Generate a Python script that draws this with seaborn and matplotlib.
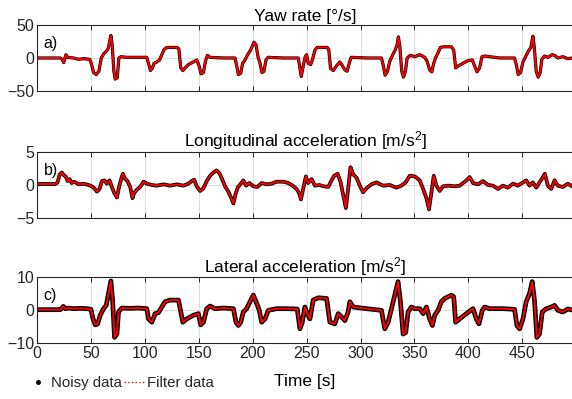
import numpy as np
import pandas as pd
import seaborn as sns
import matplotlib.pyplot as plt
from matplotlib.lines import Line2D

# yaw rate [deg/s]
yaw_t = [0, 21.6, 23.5, 24.7, 25.9, 26.8, 28.4, 34, 38.6, 43.2, 48.8, 50.3, 52.5, 54.9, 57.4,
         59.6, 61.7, 64.2, 66, 68.5, 69.7, 71.3, 72.5, 74.4, 75.9, 77.8, 83.3, 92.6, 101.8,
         103.4, 105.2, 107.1, 108.6, 111.1, 113.6, 115.7, 117.9, 120.4, 129.6, 131.5, 133.3,
         135.2, 137.3, 140.4, 145, 148.1, 150.3, 152.1, 154.3, 156.2, 158, 160.5, 172.8,
         183.6, 185.2, 186.7, 188.9, 190.7, 192.9, 195.3, 198.1, 201.2, 203.1, 204.9, 206.8,
         208.6, 210.5, 212.3, 214.2, 228.4, 242.3, 243.8, 245, 246.9, 248.7, 250, 251.5,
         253.7, 255.5, 257.7, 259.8, 269.1, 270.6, 272.2, 274.7, 277.7, 280.8, 283.3, 285.5,
         287.6, 289.5, 291.3, 305.5, 319.4, 320.9, 322.8, 325, 327.1, 329.6, 332.1, 333.9,
         335.1, 336.4, 338.2, 339.8, 341.6, 343.2, 346.2, 350.3, 354.9, 359.5, 361.7, 364.1,
         366, 367.9, 369.7, 371.9, 374, 377.1, 384.2, 386.4, 388.2, 390.7, 395, 399.6, 403.6,
         405.8, 408, 410.4, 412.6, 415.1, 429, 442.8, 444.4, 446.2, 448.4, 450.6, 453, 455.5,
         457.9, 459.8, 461, 462.9, 464.7, 466.6, 468.1, 470.6, 473.7, 477.7, 479.9, 483,
         487.6, 492.2, 496.2]
yaw_v = [0, 0, -2, -7, 0, 5, 1, 0, -2, -1, -2, -8, -22, -25, -20,
         0, 6, 10, 14, 34, 20, -20, -32, -30, 0, 2, 1, 1, 1,
         -8, -19, -15, -8, -6, -3, 5, 13, 16, 16, 14, -15,
         -19, -15, -10, -6, -3, -12, -24, -22, -5, 4, 1, 0,
         0, -12, -25, -23, -8, -3, 5, 12, 24, 20, 2, -8,
         -22, -20, -3, 1, 0, 0, -15, -28, -12, 2, 5, -8,
         -10, -2, 12, 16, 16, 12, -16, -19, -12, -6, -12, -18,
         -20, -8, 1, 0, 0, -10, -26, -20, -5, 4, 12, 20,
         32, 18, -20, -29, -20, 0, 4, 2, 5, 1, -5, -18,
         -21, -8, 1, 8, 16, 17, 17, 12, -15, -12, -8, -4, -3,
         -12, -21, -15, 2, 3, 0, 0, -10, -25, -22, -6, 2, 10,
         16, 33, 18, -20, -29, -22, -2, 3, 1, 5, 4, 0,
         2, -1, 0]

# longitudinal acceleration [m/s^2]
lon_t = [0, 17, 19.1, 21, 23.1, 24.7, 26.5, 28.4, 30.2, 32.1, 34.6, 38.6, 43.2, 47.8, 50.9,
         53.1, 55.5, 58, 60.2, 62.6, 64.8, 67.3, 69.4, 71.6, 74.1, 76.2, 78.4, 79.6, 81.8,
         83.9, 86.4, 88.6, 90.1, 92.6, 95.7, 98.8, 101.8, 106.5, 111.1, 117.3, 123.4, 129.6,
         135.8, 140.4, 143.5, 145.7, 148.1, 151.2, 154.3, 157.4, 160.5, 163.6, 166.6, 169.1,
         171.6, 174.4, 177.4, 179.9, 182.1, 183.9, 186.1, 188.9, 191.3, 193.8, 196.9, 200.6,
         204.3, 208.3, 212.9, 217.6, 222.2, 228.4, 233, 237, 240.7, 243.2, 244.7, 246.9,
         249.3, 251.5, 254.6, 257.7, 261.7, 266, 270, 272.8, 275.6, 278.7, 281.4, 283.9,
         286.4, 288.2, 290.7, 293.2, 296.3, 299.3, 302.4, 305.5, 310.1, 314.8, 320.9, 327.1,
         333.3, 337.9, 341.9, 345.6, 350.3, 354.9, 358, 361.1, 363.5, 365.4, 367.9, 370.3,
         373.4, 376.5, 381.1, 387.3, 391.9, 397.5, 401.2, 404.3, 408.9, 413.5, 418.2, 422.8,
         427.4, 432, 436.7, 441.3, 445.9, 450.6, 453.6, 456.7, 459.8, 462.9, 466, 469.1,
         470.9, 473.7, 476.8, 479.9, 483, 487.6, 492.2, 496.2]
lon_v = [0.15, 0.15, 0.4, 1.6, 1.9, 1.5, 1.3, 0.6, 0.9, 0.3, 0.5, 0.1, 0.2, 0, -0.2,
         -0.5, -1.0, -0.6, 0.6, 0.7, 0.2, 0.7, -0.3, -1.2, -1.9, -0.2, 1.1, 1.7, 0.9,
         0.6, -0.3, -2.0, -1.2, -0.7, -0.3, 0.5, 0.2, 0, -0.1, 0.1, -0.1, 0.1,
         -0.1, 0.2, 0.6, 0.8, -0.2, -0.9, -0.5, 0.6, 1.4, 1.9, 2.2, 1.8,
         0.9, -0.2, -1.0, -1.9, -2.8, -1.5, -0.4, 0.2, 0.7, -0.1, 0.3, -0.2,
         -0.3, 0.3, 0.1, 0.2, 0.5, 0.5, 0.3, -0.1, -0.6, -1.3, -2.2, -0.5,
         1.3, 0.3, 0.9, -0.1, 0, -0.2, -0.3, 0.6, 1.4, 1.7, 0.5, -1.5,
         -3.5, -1.0, 2.7, 1.6, 1.1, -0.1, -1.1, -0.5, 0.1, 0.4, -0.1, 0,
         -0.4, -0.1, 0.4, 1.4, 1.3, 0.7, -0.6, -2.0, -3.7, -1.5, 1.4, -0.1,
         -0.9, -0.2, -0.1, -0.2, -0.1, 0.6, 1.2, 0.3, 0.1, 0.6, 0, -0.1,
         -0.6, -0.1, -0.4, 0.2, -0.1, 0.4, 0.7, -0.1, 0.4, -0.4, 0.4, 1.2,
         1.7, -0.1, -0.6, 0.7, -0.1, -0.3, 0.2, -0.2]

# lateral acceleration [m/s^2]
lat_t = [0, 21.6, 23.1, 24.4, 26.2, 29.3, 34, 40.1, 46.3, 50, 51.8, 54, 56.2, 58.6, 61.7,
         64.2, 66.3, 68.5, 70.1, 71.9, 74.1, 75.6, 78.7, 86.4, 94.1, 101.8, 103.4, 106.5,
         109.6, 112.6, 115.7, 118.8, 123.4, 131.2, 133.3, 135.2, 138.9, 145, 149.7, 151.8,
         154.3, 157.4, 160.5, 165.1, 172.8, 182.1, 184.5, 186.7, 188.9, 191.3, 194.4, 197.5,
         200.6, 203.7, 206.1, 208.3, 211.4, 214.5, 222.2, 231.5, 241.3, 243.8, 246, 248.4,
         250.6, 253.1, 256.1, 260.8, 268.5, 271.6, 276.2, 279.3, 282.4, 285.5, 288.5, 290.1,
         293.2, 305.5, 319.4, 322.5, 325.6, 328.7, 331.7, 334.8, 337, 339.5, 341.9, 344.1,
         347.2, 350.3, 354.9, 358, 361.1, 364.1, 366.6, 368.8, 371.9, 374.9, 378, 384.2,
         386.4, 388.2, 391.9, 398.1, 404.3, 407.4, 409.8, 412.9, 415.1, 419.7, 432, 442.8,
         445, 447.5, 450.6, 453.6, 456.7, 459.2, 461.4, 463.5, 466, 468.5, 472.2, 476.8,
         479.9, 483, 487.6, 492.2, 496.2]
lat_v = [0.1, 0.1, 0.6, 1.1, 0.4, 0.6, 0.4, 0.5, 0.4, 0.2, -2.5, -4.5, -4.2, -1.6, 0.4,
         1.4, 5, 8.8, 3, -8.3, -7.2, -0.6, 0.6, 0.5, 0.6, 0.4, -2.7, -3.7,
         -1.1, -0.8, 0.9, 2.5, 3.0, 3.0, -0.6, -3.7, -2.7, -1.6, -1.1, -4.5,
         -3.7, 0.4, 1.2, 0.4, 0.6, 0.4, -3.7, -4.7, -3.7, -0.6, 0.4, 2.5,
         4.5, 2, -0.1, -3.7, -2.7, -0.1, 0.4, 0.4, 0.3, -5.7, -3.7, 0.9,
         -1.1, -2.7, 3.0, 3.7, 3.5, -3.7, -4.2, -1.1, -2.1, -3.2, -0.6, 2.5,
         0.9, 0.4, -0.1, -5.7, -3.7, 0.4, 4.5, 8.6, 2.5, -7.3, -6.8, -0.6,
         0.9, 0.4, 0.4, -1.1, 0.9, -2.7, -4.7, -1.6, -0.1, 2.5, 3.5, 4.5,
         4, -3.7, -2.7, -1.1, 0.4, -2.7, -4.2, -0.1, 0.9, 0.4, 0.4, 0.2,
         -4.7, -5.7, -2.7, 2.5, 5, 8.6, 2.5, -8.3, -7.2, -0.6, 0.4, 0.9,
         1.4, -0.1, -0.6, 0.3, 0]

titles = ['Yaw rate [°/s]', r'Longitudinal acceleration [m/s$^2$]', r'Lateral acceleration [m/s$^2$]']
tags = ['a)', 'b)', 'c)']
ylims = [(-50, 50), (-5, 5), (-10, 10)]
xticks = [0, 50, 100, 150, 200, 250, 300, 350, 400, 450]

sns.set_theme(style="ticks")
plt.rcParams['font.family'] = ['Liberation Sans', 'DejaVu Sans']
plt.rcParams['mathtext.fontset'] = 'custom'
plt.rcParams['mathtext.rm'] = 'Liberation Sans'
plt.rcParams['mathtext.it'] = 'Liberation Sans'

fig = plt.figure(figsize=(5.72, 3.99), dpi=100)
W, H = 572, 399
tops = [25, 152, 277]
series = [(yaw_t, yaw_v, 2.3), (lon_t, lon_v, 2.7), (lat_t, lat_v, 3.4)]
txt = '#262626'

for i, (t, v, nlw) in enumerate(series):
    ax = fig.add_axes([37 / W, 1 - (tops[i] + 66) / H, 536 / W, 66 / H])
    df = pd.DataFrame({'t': t, 'v': v})
    # noisy measurement (black) under the filtered estimate (red)
    sns.lineplot(data=df, x='t', y='v', ax=ax, color='black', lw=nlw,
                 sort=False, estimator=None, solid_joinstyle='round')
    sns.lineplot(data=df, x='t', y='v', ax=ax, color='red', lw=1.4,
                 sort=False, estimator=None)
    ax.set_xlim(0, 497)
    ax.set_ylim(*ylims[i])
    ax.set_yticks([ylims[i][0], 0, ylims[i][1]])
    ax.set_xticks(xticks)
    ax.grid(True, color='#dcdcdc', lw=0.7)
    ax.tick_params(direction='in', top=True, right=True, length=3.5, width=0.7,
                   labelsize=11.5, colors=txt, pad=2)
    for s in ax.spines.values():
        s.set_linewidth(0.8)
        s.set_color(txt)
    ax.set_ylabel('')
    ax.set_title(titles[i], fontsize=12.5, color='black', pad=3)
    ax.text(0.012, 0.72, tags[i], transform=ax.transAxes, fontsize=11.5,
            va='center', ha='left', color='black')
    if i < 2:
        ax.set_xlabel('')
        ax.set_xticklabels([])
    else:
        ax.set_xlabel('Time [s]', fontsize=12.5, color='black', labelpad=9.5)

handles = [Line2D([], [], marker='.', ls='none', color='black', markersize=5),
           Line2D([], [], ls=':', lw=1.0, color='red')]
fig.legend(handles, ['Noisy data', 'Filter data'], loc='center left',
           bbox_to_anchor=(0.049, 0.04), ncol=2, frameon=False, fontsize=10.8,
           handlelength=1.3, handletextpad=0.2, columnspacing=0.2,
           borderpad=0, borderaxespad=0)

fig.savefig('out.png', dpi=100)
